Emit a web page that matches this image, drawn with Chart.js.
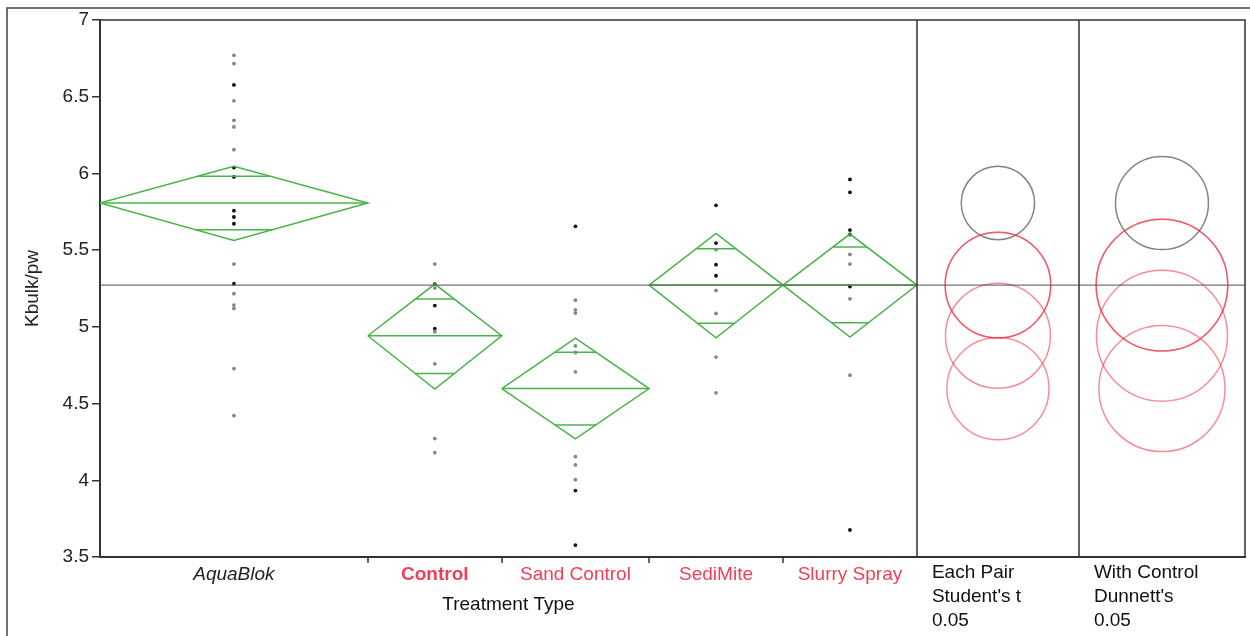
<!DOCTYPE html>
<html>
<head>
<meta charset="utf-8">
<script src="https://cdn.jsdelivr.net/npm/chart.js@4.4.0/dist/chart.umd.min.js"></script>
<style>
html, body { margin: 0; padding: 0; background: #fff; }
#wrap { width: 1250px; height: 636px; position: relative; }
</style>
</head>
<body>
<div id="wrap"><canvas id="chart" width="1250" height="636"></canvas></div>
<script>
// Groupes de traitement et effectifs (largeur proportionnelle a n)
const groups = ['AquaBlok', 'Control', 'Sand Control', 'SediMite', 'Slurry Spray'];
const groupN = [20, 10, 11, 10, 10];

// Diamants des moyennes (moyenne, IC 95%, marques de chevauchement)
const means = [5.807, 4.942, 4.598, 5.272, 5.272];
const ciUpper = [6.046, 5.279, 4.927, 5.609, 5.605];
const ciLower = [5.563, 4.594, 4.270, 4.929, 4.933];
const overlapUpper = [5.981, 5.181, 4.835, 5.509, 5.520];
const overlapLower = [5.633, 4.696, 4.361, 5.024, 5.026];
const grandMean = 5.272;

// Observations (gris / noir)
const aquaGray = [6.770, 6.716, 6.473, 6.346, 6.303, 6.155, 5.409, 5.216, 5.142, 5.120, 4.728, 4.422];
const aquaBlack = [6.577, 6.038, 5.977, 5.757, 5.716, 5.672, 5.281];
const controlGray = [5.409, 5.253, 4.968, 4.759, 4.272, 4.180];
const controlBlack = [5.279, 5.139, 4.989];
const sandGray = [5.174, 5.111, 5.090, 4.876, 4.833, 4.707, 4.154, 4.100, 4.004];
const sandBlack = [5.655, 3.933, 3.578];
const sediGray = [5.503, 5.237, 5.087, 4.803, 4.570];
const sediBlack = [5.792, 5.546, 5.405, 5.333];
const slurryGray = [5.472, 5.409, 5.183, 4.685];
const slurryBlack = [5.961, 5.877, 5.631, 5.602, 5.263, 3.676];

// Cercles de comparaison (rayons en unites de Kbulk/pw)
const studentRadius = [0.239, 0.342, 0.333, 0.344, 0.344];
const dunnettRadius = [0.303, 0.427, 0.411, 0.429, 0.429];

// Panneaux de droite (largeur en unites de l'axe x)
const studentPanel = 12.1;
const dunnettPanel = 12.4;
const panelLabels = [['Each Pair', "Student's t", '0.05'], ['With Control', "Dunnett's", '0.05']];

const yTicks = [3.5, 4, 4.5, 5, 5.5, 6, 6.5, 7];

// Bornes des groupes sur l'axe x
const bounds = [0];
groupN.forEach(n => bounds.push(bounds[bounds.length - 1] + n));
const mainEnd = bounds[bounds.length - 1];
const centers = groupN.map((n, i) => bounds[i] + n / 2);
const studentX = mainEnd + studentPanel / 2;
const dunnettX = mainEnd + studentPanel + dunnettPanel / 2;
const xMax = mainEnd + studentPanel + dunnettPanel;

const green = 'rgb(72, 180, 72)';
const datasets = [];

// Ligne de la moyenne generale
datasets.push({
    data: [{ x: 0, y: grandMean }, { x: xMax, y: grandMean }],
    showLine: true, borderColor: 'rgba(90,90,90,0.85)', borderWidth: 1.2, pointRadius: 0
});

// Diamants
groups.forEach((g, i) => {
    const l = bounds[i], r = bounds[i + 1], c = centers[i], hw = groupN[i] / 2;
    datasets.push({
        data: [{ x: l, y: means[i] }, { x: c, y: ciUpper[i] }, { x: r, y: means[i] }, { x: c, y: ciLower[i] }, { x: l, y: means[i] }],
        showLine: true, borderColor: green, borderWidth: 1.5, pointRadius: 0
    });
    datasets.push({
        data: [{ x: l, y: means[i] }, { x: r, y: means[i] }],
        showLine: true, borderColor: green, borderWidth: 1.5, pointRadius: 0
    });
    [[overlapUpper[i], ciUpper[i]], [overlapLower[i], ciLower[i]]].forEach(([ov, ci]) => {
        const d = hw * (1 - (ov - means[i]) / (ci - means[i]));
        datasets.push({
            data: [{ x: c - d, y: ov }, { x: c + d, y: ov }],
            showLine: true, borderColor: green, borderWidth: 1.5, pointRadius: 0
        });
    });
});

// Points
const grayPts = [aquaGray, controlGray, sandGray, sediGray, slurryGray];
const blackPts = [aquaBlack, controlBlack, sandBlack, sediBlack, slurryBlack];
groups.forEach((g, i) => {
    datasets.push({
        data: grayPts[i].map(v => ({ x: centers[i], y: v })),
        pointRadius: 1.9, pointBackgroundColor: 'rgb(135,135,135)', pointBorderWidth: 0
    });
    datasets.push({
        data: blackPts[i].map(v => ({ x: centers[i], y: v })),
        pointRadius: 1.9, pointBackgroundColor: '#111', pointBorderWidth: 0
    });
});

// Cercles de comparaison
function circleSet(xc, radii) {
    return {
        data: means.map(m => ({ x: xc, y: m })),
        pointRadius: ctx => {
            const ys = ctx.chart.scales.y;
            return Math.abs(ys.getPixelForValue(0) - ys.getPixelForValue(radii[ctx.dataIndex]));
        },
        pointBackgroundColor: 'rgba(0,0,0,0)',
        pointBorderColor: ctx => ctx.dataIndex === 0 ? 'rgba(110,110,110,0.85)' : 'rgba(236,50,70,0.55)',
        pointBorderWidth: 1.5
    };
}
datasets.push(circleSet(studentX, studentRadius));
datasets.push(circleSet(dunnettX, dunnettRadius));

const labelFont = 'Liberation Sans, Arial, sans-serif';
const fontSize = 19;

const framePlugin = {
    id: 'frame',
    afterDraw(chart) {
        const { ctx, chartArea: a, scales: { x } } = chart;
        ctx.save();
        // cadre exterieur
        ctx.strokeStyle = '#444';
        ctx.lineWidth = 1.5;
        ctx.beginPath();
        ctx.moveTo(7, 636); ctx.lineTo(7, 8); ctx.lineTo(1250, 8);
        ctx.stroke();
        // cadre du graphe et separateurs des panneaux
        ctx.strokeStyle = '#333';
        ctx.beginPath();
        ctx.moveTo(a.left, a.top); ctx.lineTo(a.right, a.top); ctx.lineTo(a.right, a.bottom);
        [mainEnd, mainEnd + studentPanel].forEach(v => {
            const px = Math.round(x.getPixelForValue(v));
            ctx.moveTo(px, a.top); ctx.lineTo(px, a.bottom);
        });
        // graduations entre les groupes
        bounds.slice(1, -1).forEach(v => {
            const px = Math.round(x.getPixelForValue(v));
            ctx.moveTo(px, a.bottom); ctx.lineTo(px, a.bottom + 6);
        });
        ctx.stroke();
        // textes
        ctx.fillStyle = '#111';
        ctx.font = fontSize + 'px ' + labelFont;
        ctx.textBaseline = 'middle';
        ctx.textAlign = 'center';
        ctx.fillText('Treatment Type', (x.getPixelForValue(0) + x.getPixelForValue(mainEnd)) / 2, 605);
        ctx.textAlign = 'left';
        [mainEnd, mainEnd + studentPanel].forEach((v, k) => {
            const px = x.getPixelForValue(v) + 15;
            panelLabels[k].forEach((t, j) => ctx.fillText(t, px, 573 + j * 24));
        });
        ctx.restore();
    }
};

new Chart(document.getElementById('chart'), {
    type: 'scatter',
    data: { datasets: datasets },
    plugins: [framePlugin],
    options: {
        responsive: false,
        animation: false,
        devicePixelRatio: 1,
        events: [],
        layout: { padding: { left: 7, top: 20, right: 5, bottom: 0 } },
        plugins: { legend: { display: false }, tooltip: { enabled: false } },
        scales: {
            x: {
                type: 'linear',
                min: 0,
                max: xMax,
                afterFit: s => { s.height = 79; },
                afterBuildTicks: s => { s.ticks = centers.map(v => ({ value: v })); },
                grid: { display: false, drawTicks: false },
                border: { display: true, color: '#333', width: 2 },
                ticks: {
                    autoSkip: false,
                    maxRotation: 0,
                    padding: 6,
                    callback: (v, i) => groups[i],
                    color: ctx => ctx.index === 0 ? '#222' : 'rgb(240,64,88)',
                    font: ctx => ({
                        family: labelFont,
                        size: fontSize,
                        style: ctx.index === 0 ? 'italic' : 'normal',
                        weight: ctx.index === 1 ? 'bold' : 'normal'
                    })
                }
            },
            y: {
                type: 'linear',
                min: 3.5,
                max: 7,
                afterFit: s => { s.width = 93; },
                afterBuildTicks: s => { s.ticks = yTicks.map(v => ({ value: v })); },
                grid: { drawOnChartArea: false, drawTicks: true, tickLength: 8, color: '#333', lineWidth: 1.5 },
                border: { display: true, color: '#333', width: 2 },
                ticks: {
                    padding: 3,
                    color: '#222',
                    font: { family: labelFont, size: fontSize },
                    callback: v => String(v)
                },
                title: {
                    display: true,
                    text: 'Kbulk/pw',
                    color: '#222',
                    font: { family: labelFont, size: fontSize },
                    padding: { top: 14, bottom: 0 }
                }
            }
        }
    }
});
</script>
</body>
</html>
